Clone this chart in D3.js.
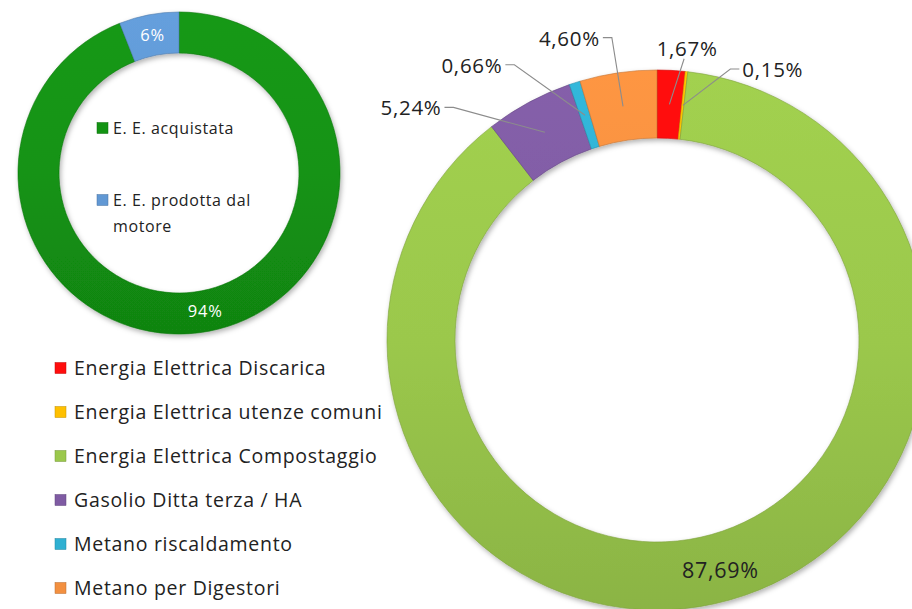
<!DOCTYPE html>
<html>
<head>
<meta charset="utf-8">
<script src="https://cdn.jsdelivr.net/npm/d3@7"></script>
<style>
  body { margin: 0; background: #fff; }
  svg { display: block; }
  text { font-family: "Open Sans", sans-serif; }
</style>
</head>
<body>
<div id="container"></div>
<script>
// small donut: electric energy origin
const leftCategories = ["E. E. acquistata", "E. E. prodotta dal motore"];
const leftValues = [94, 6];
const leftColors = ["#139313", "#6198d4"];

// big donut: energy consumption by source
const mainCategories = [
  "Energia Elettrica Discarica",
  "Energia Elettrica utenze comuni",
  "Energia Elettrica Compostaggio",
  "Gasolio Ditta terza / HA",
  "Metano riscaldamento",
  "Metano per Digestori"
];
const mainValues = [1.67, 0.15, 87.69, 5.24, 0.66, 4.60];
const mainColors = ["#ff0d0d", "#ffc000", "#9bc84c", "#7f5ba3", "#2fb0d2", "#f39040"];

// where excel dropped each big label (angle deg clockwise from top, radius px)
const mainLabelPolar = [[5.9, 293], [23.2, 294], [164.6, 238.6], [313.3, 338], [326, 331], [343.8, 314]];

const width = 912;
const height = 609;

const svg = d3.select("#container").append("svg")
  .attr("width", width)
  .attr("height", height);

const defs = svg.append("defs");
const shadow = defs.append("filter").attr("id", "shadow")
  .attr("x", "-20%").attr("y", "-20%").attr("width", "140%").attr("height", "140%");
shadow.append("feDropShadow")
  .attr("dx", 1.5).attr("dy", 2.5).attr("stdDeviation", 2.5)
  .attr("flood-color", "#000").attr("flood-opacity", 0.3);

const itLocale = d3.formatLocale({decimal: ",", thousands: ".", grouping: [3], currency: ["", "€"]});
const fmt2 = itLocale.format(".2f");

// light from the top: a little brighter up there, a little darker at the bottom
function ringGradient(id, color, r1) {
  const c = d3.color(color);
  const g = defs.append("linearGradient").attr("id", id)
    .attr("gradientUnits", "userSpaceOnUse")
    .attr("x1", 0).attr("y1", -r1).attr("x2", 0).attr("y2", r1);
  g.append("stop").attr("offset", 0).attr("stop-color", c.brighter(0.12));
  g.append("stop").attr("offset", 0.5).attr("stop-color", c);
  g.append("stop").attr("offset", 1).attr("stop-color", c.darker(0.3));
}

// ---------- left donut ----------
const lcx = 179, lcy = 173, lr0 = 120, lr1 = 161;
leftColors.forEach((c, i) => ringGradient("lg" + i, c, lr1));

const leftPie = d3.pie().sort(null).value(d => d)(leftValues);
const leftArc = d3.arc().innerRadius(lr0).outerRadius(lr1);
const leftG = svg.append("g").attr("transform", `translate(${lcx},${lcy})`);

leftG.append("g").attr("filter", "url(#shadow)")
  .selectAll("path").data(leftPie).join("path")
  .attr("d", leftArc)
  .attr("fill", (d, i) => `url(#lg${i})`)
  .attr("stroke", (d, i) => d3.color(leftColors[i]).darker(0.6))
  .attr("stroke-width", 0.6);

const leftLabelArc = d3.arc().innerRadius((lr0 + lr1) / 2).outerRadius((lr0 + lr1) / 2);
leftG.selectAll("text.pct").data(leftPie).join("text")
  .attr("class", "pct")
  .attr("transform", d => `translate(${leftLabelArc.centroid(d)})`)
  .attr("text-anchor", "middle")
  .attr("dy", "0.35em")
  .attr("font-size", 16.5)
  .attr("letter-spacing", 0.8)
  .attr("fill", "#fff")
  .text(d => d.data + "%");

// legend inside small donut
const leftLegend = svg.append("g");
const leftRows = [128, 200];
leftCategories.forEach((name, i) => {
  const g = leftLegend.append("g").attr("transform", `translate(97,${leftRows[i]})`);
  g.append("rect").attr("x", 0).attr("y", -5.5).attr("width", 11).attr("height", 11)
    .attr("fill", leftColors[i]).attr("stroke", d3.color(leftColors[i]).darker(0.8)).attr("stroke-width", 0.5);
  const t = g.append("text").attr("x", 16).attr("dy", "0.35em")
    .attr("font-size", 16).attr("letter-spacing", 0.6).attr("fill", "#222");
  if (name.length > 20) {
    t.append("tspan").attr("x", 16).text("E. E. prodotta dal");
    t.append("tspan").attr("x", 16).attr("dy", 26).text("motore");
  } else {
    t.text(name);
  }
});

// ---------- big donut ----------
const mcx = 657, mcy = 340, mr0 = 202, mr1 = 270;
mainColors.forEach((c, i) => ringGradient("mg" + i, c, mr1));

const mainPie = d3.pie().sort(null).value(d => d)(mainValues);
const mainArc = d3.arc().innerRadius(mr0).outerRadius(mr1);
const midArc = d3.arc().innerRadius((mr0 + mr1) / 2).outerRadius((mr0 + mr1) / 2);
const mainG = svg.append("g").attr("transform", `translate(${mcx},${mcy})`);

mainG.append("g").attr("filter", "url(#shadow)")
  .selectAll("path").data(mainPie).join("path")
  .attr("d", mainArc)
  .attr("fill", (d, i) => `url(#mg${i})`)
  .attr("stroke", (d, i) => d3.color(mainColors[i]).darker(0.6))
  .attr("stroke-width", 0.6);

const rad = a => a * Math.PI / 180;
const labelG = mainG.append("g");
mainPie.forEach((d, i) => {
  const [ang, r] = mainLabelPolar[i];
  const lx = r * Math.sin(rad(ang));
  const ly = -r * Math.cos(rad(ang));
  const t = labelG.append("text")
    .attr("x", lx).attr("y", ly)
    .attr("text-anchor", "middle")
    .attr("dy", "0.35em")
    .attr("font-size", i === 2 ? 21.5 : 20.5)
    .attr("letter-spacing", 0.7)
    .attr("fill", "#222")
    .text(fmt2(d.data) + "%");
  if (i === 2) return; // big slice keeps its label inside
  const bb = t.node().getBBox();
  const [cx, cy] = midArc.centroid(d);
  let pts;
  if (cx > bb.x + bb.width + 4) {
    const ax = bb.x + bb.width + 3, ay = bb.y + bb.height / 2;
    pts = [[ax, ay], [ax + 9, ay], [cx, cy]];
  } else if (cx < bb.x - 4) {
    const ax = bb.x - 3, ay = bb.y + bb.height / 2;
    pts = [[ax, ay], [ax - 9, ay], [cx, cy]];
  } else {
    pts = [[lx - 3, bb.y + bb.height - 3], [cx, cy]];
  }
  labelG.append("polyline")
    .attr("points", pts.map(p => p.join(",")).join(" "))
    .attr("fill", "none")
    .attr("stroke", "#8c8c8c")
    .attr("stroke-width", 1.1);
});

// legend for big donut
const legendRows = d3.scalePoint().domain(mainCategories).range([368, 588]);
const mainLegend = svg.append("g");
mainCategories.forEach((name, i) => {
  const g = mainLegend.append("g").attr("transform", `translate(55,${legendRows(name)})`);
  g.append("rect").attr("x", 0).attr("y", -5.5).attr("width", 11).attr("height", 11)
    .attr("fill", mainColors[i]).attr("stroke", d3.color(mainColors[i]).darker(0.8)).attr("stroke-width", 0.5);
  g.append("text").attr("x", 19).attr("dy", "0.35em")
    .attr("font-size", 19.5).attr("letter-spacing", 0.7).attr("fill", "#222")
    .text(name);
});
</script>
</body>
</html>
